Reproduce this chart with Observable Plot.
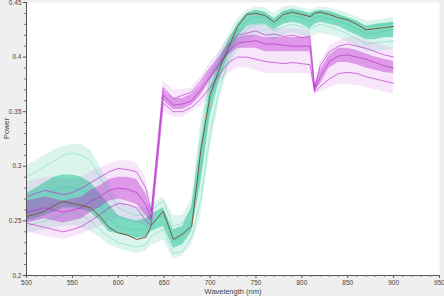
<!DOCTYPE html>
<html><head><meta charset="utf-8">
<script src="https://cdn.jsdelivr.net/npm/d3@7"></script>
<script src="https://cdn.jsdelivr.net/npm/@observablehq/plot@0.6"></script>
<style>
html,body{margin:0;padding:0;background:#efefef;overflow:hidden;}
#chart svg{display:block;}
</style></head>
<body><div id="chart"></div>
<script>
const wavelength = [500,510,520,530,540,550,560,570,580,590,600,610,620,630,636,649,660,670,680,690,700,710,720,730,740,750,760,770,780,790,800,809,814,820,830,840,850,860,870,880,890,900];

// teal group envelopes
const tealOuterLo = [0.238,0.24,0.242,0.244,0.245,0.246,0.244,0.24,0.235,0.228,0.225,0.222,0.22,0.222,0.228,0.232,0.215,0.218,0.228,0.255,0.315,0.36,0.39,0.405,0.415,0.42,0.42,0.415,0.42,0.422,0.42,0.418,0.42,0.422,0.42,0.418,0.414,0.41,0.405,0.405,0.406,0.407];
const tealOuterHi = [0.30,0.305,0.31,0.315,0.318,0.32,0.32,0.315,0.30,0.285,0.27,0.265,0.262,0.262,0.265,0.272,0.255,0.255,0.27,0.34,0.385,0.405,0.42,0.435,0.443,0.446,0.445,0.44,0.446,0.447,0.445,0.443,0.445,0.446,0.445,0.443,0.44,0.437,0.433,0.434,0.435,0.436];
const tealCoreLo = [0.25,0.252,0.255,0.258,0.262,0.262,0.26,0.258,0.25,0.24,0.238,0.236,0.234,0.235,0.24,0.245,0.225,0.228,0.24,0.285,0.345,0.378,0.40,0.418,0.428,0.43,0.43,0.425,0.43,0.432,0.43,0.426,0.43,0.432,0.43,0.428,0.424,0.42,0.416,0.416,0.418,0.418];
const tealCoreHi = [0.275,0.28,0.285,0.29,0.292,0.292,0.29,0.285,0.275,0.265,0.255,0.252,0.25,0.252,0.256,0.262,0.242,0.245,0.262,0.32,0.372,0.395,0.415,0.43,0.44,0.443,0.441,0.435,0.442,0.444,0.442,0.44,0.442,0.443,0.442,0.439,0.436,0.433,0.428,0.43,0.431,0.432];
const tealLine1 = [0.29,0.295,0.30,0.305,0.31,0.312,0.31,0.305,0.29,0.275,0.262,0.258,0.255,0.256,0.26,0.268,0.245,0.248,0.262,0.33,0.38,0.40,0.415,0.43,0.44,0.442,0.44,0.435,0.441,0.443,0.44,0.438,0.441,0.442,0.44,0.438,0.435,0.432,0.428,0.429,0.43,0.431];
const tealLine2 = [0.262,0.266,0.272,0.278,0.282,0.28,0.278,0.274,0.265,0.252,0.245,0.243,0.241,0.242,0.25,0.255,0.232,0.236,0.25,0.30,0.36,0.388,0.408,0.424,0.434,0.437,0.436,0.43,0.436,0.438,0.436,0.433,0.436,0.437,0.435,0.433,0.43,0.426,0.421,0.422,0.424,0.425];
const tealLine3 = [0.245,0.248,0.25,0.253,0.256,0.258,0.255,0.25,0.242,0.235,0.23,0.228,0.226,0.228,0.236,0.242,0.22,0.222,0.235,0.27,0.33,0.37,0.398,0.415,0.426,0.43,0.43,0.424,0.428,0.43,0.428,0.426,0.428,0.43,0.428,0.425,0.421,0.417,0.412,0.413,0.414,0.415];
const selectedLine = [0.254,0.256,0.259,0.264,0.268,0.266,0.264,0.262,0.254,0.244,0.239,0.237,0.233,0.235,0.246,0.259,0.233,0.238,0.245,0.315,0.365,0.389,0.409,0.428,0.439,0.440,0.438,0.432,0.439,0.441,0.439,0.437,0.440,0.441,0.439,0.436,0.434,0.430,0.425,0.426,0.427,0.428];

// magenta group envelopes
const magOuterLo = [0.24,0.238,0.236,0.234,0.233,0.235,0.238,0.242,0.245,0.25,0.252,0.25,0.248,0.245,0.242,0.35,0.345,0.345,0.35,0.355,0.365,0.375,0.385,0.39,0.39,0.388,0.385,0.385,0.385,0.385,0.385,0.385,0.366,0.368,0.372,0.375,0.375,0.374,0.372,0.37,0.368,0.366];
const magOuterHi = [0.285,0.288,0.29,0.29,0.288,0.288,0.29,0.295,0.298,0.302,0.305,0.305,0.303,0.29,0.265,0.378,0.37,0.37,0.372,0.382,0.395,0.405,0.418,0.425,0.428,0.43,0.428,0.426,0.426,0.426,0.425,0.425,0.378,0.395,0.41,0.415,0.418,0.418,0.415,0.413,0.41,0.408];
const magCoreLo = [0.248,0.25,0.252,0.25,0.248,0.25,0.252,0.258,0.262,0.268,0.27,0.268,0.265,0.255,0.248,0.36,0.352,0.352,0.356,0.365,0.378,0.39,0.402,0.408,0.408,0.408,0.405,0.405,0.405,0.405,0.405,0.405,0.368,0.375,0.39,0.395,0.395,0.393,0.39,0.388,0.386,0.385];
const magCoreHi = [0.268,0.27,0.272,0.27,0.268,0.27,0.272,0.278,0.282,0.288,0.29,0.29,0.288,0.275,0.26,0.37,0.362,0.362,0.366,0.375,0.388,0.398,0.41,0.418,0.42,0.42,0.418,0.418,0.418,0.418,0.418,0.418,0.374,0.388,0.402,0.408,0.408,0.406,0.403,0.40,0.398,0.396];
const magLine1 = [0.272,0.275,0.278,0.276,0.274,0.276,0.28,0.285,0.29,0.295,0.298,0.297,0.295,0.28,0.258,0.372,0.362,0.365,0.368,0.378,0.39,0.40,0.412,0.42,0.422,0.424,0.42,0.421,0.419,0.42,0.418,0.419,0.372,0.392,0.405,0.41,0.412,0.41,0.408,0.405,0.402,0.40];
const magLine2 = [0.258,0.26,0.262,0.26,0.258,0.26,0.262,0.268,0.272,0.278,0.28,0.279,0.276,0.265,0.252,0.365,0.356,0.357,0.36,0.37,0.382,0.394,0.405,0.413,0.414,0.415,0.412,0.412,0.411,0.41,0.41,0.41,0.37,0.382,0.396,0.401,0.402,0.40,0.398,0.395,0.392,0.39];
const magLine3 = [0.248,0.246,0.244,0.242,0.24,0.242,0.245,0.25,0.256,0.262,0.266,0.265,0.262,0.25,0.246,0.358,0.35,0.35,0.354,0.362,0.372,0.384,0.395,0.40,0.40,0.398,0.396,0.395,0.394,0.395,0.394,0.393,0.368,0.373,0.38,0.385,0.386,0.385,0.382,0.38,0.378,0.376];

const xTicks = [500,550,600,650,700,750,800,850,900,950];
const yTicks = [0.2,0.25,0.3,0.35,0.4,0.45];
const yTickLabels = ["0.2","0.25","0.3","0.35","0.4","0.45"];
const xLabel = "Wavelength (nm)";
const yLabel = "Power";

const rows = wavelength.map((w,i)=>({w,
  tOL:tealOuterLo[i], tOH:tealOuterHi[i], tCL:tealCoreLo[i], tCH:tealCoreHi[i],
  mOL:magOuterLo[i], mOH:magOuterHi[i], mCL:magCoreLo[i], mCH:magCoreHi[i]}));
const lineRows = (arr, key) => wavelength.map((w,i)=>({w, v:arr[i], key}));
const tealLines = [...lineRows(tealLine1,"t1"),...lineRows(tealLine2,"t2"),...lineRows(tealLine3,"t3")];
const magLines = [...lineRows(magLine1,"m1"),...lineRows(magLine2,"m2"),...lineRows(magLine3,"m3")];
const sel = lineRows(selectedLine,"sel");

const xMinor = d3.range(500,951,10).filter(v=>!xTicks.includes(v));
const yMinor = d3.range(0.2,0.4501,0.01).map(v=>+v.toFixed(2)).filter(v=>!yTicks.some(t=>Math.abs(t-v)<1e-6));

const TEAL="#1dbf94", MAG="#b825cc";
const chart = Plot.plot({
  width:444, height:296,
  marginLeft:26, marginRight:5, marginTop:2, marginBottom:21,
  style:{background:"transparent", fontFamily:"Liberation Sans", fontSize:"6.5px", color:"#444"},
  x:{domain:[500,950]},
  y:{domain:[0.2,0.45]},
  marks:[
    Plot.frame({fill:"white", stroke:null}),
    Plot.areaY(rows,{x:"w", y1:"tOL", y2:"tOH", fill:"#6fd8bd", fillOpacity:0.25}),
    Plot.areaY(rows,{x:"w", y1:"mOL", y2:"mOH", fill:"#dc8be6", fillOpacity:0.22}),
    Plot.areaY(rows,{x:"w", y1:"tCL", y2:"tCH", fill:TEAL, fillOpacity:0.5}),
    Plot.areaY(rows,{x:"w", y1:"mCL", y2:"mCH", fill:MAG, fillOpacity:0.4}),
    Plot.line(tealLines,{x:"w", y:"v", z:"key", stroke:"#25c49c", strokeWidth:0.6, strokeOpacity:0.55}),
    Plot.line(magLines,{x:"w", y:"v", z:"key", stroke:MAG, strokeWidth:0.9, strokeOpacity:0.7}),
    Plot.line(sel,{x:"w", y:"v", stroke:"#7d5a3a", strokeWidth:1}),
    Plot.ruleX([500],{stroke:"#555", strokeWidth:1}),
    Plot.ruleY([0.2],{stroke:"#555", strokeWidth:1}),
    Plot.axisX({ticks:xTicks, tickSize:3, tickPadding:2, stroke:"#555", fill:"#444", label:null}),
    Plot.axisX({ticks:xMinor, tickSize:2, tickFormat:()=>"", stroke:"#777", label:null}),
    Plot.axisY({ticks:yTicks, tickSize:3, tickPadding:2, stroke:"#555", fill:"#444", tickFormat:(d)=>yTickLabels[yTicks.findIndex(t=>Math.abs(t-d)<1e-9)], label:null}),
    Plot.axisY({ticks:yMinor, tickSize:2, tickFormat:()=>"", stroke:"#777", label:null}),
    Plot.text([xLabel],{frameAnchor:"bottom", dy:18, fill:"#444", fontSize:7.5}),
    Plot.text([yLabel],{frameAnchor:"left", dx:-20, rotate:-90, fill:"#444", fontSize:7.5})
  ]
});
document.getElementById("chart").append(chart);
</script></body></html>
